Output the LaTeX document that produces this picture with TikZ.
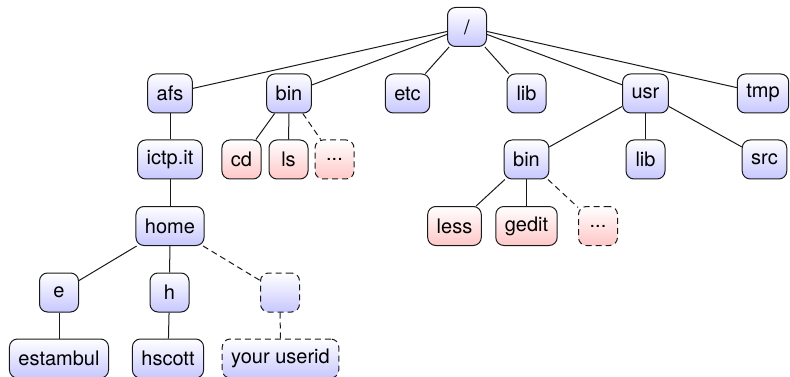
\documentclass[tikz,border=0pt]{standalone}
\usepackage{fontspec}
\setmainfont{TeX Gyre Heros}
\tikzset{
  dirbox/.style={draw=black!90, line width=1pt, rounded corners=8pt,
    minimum width=39pt, minimum height=39pt, inner xsep=9pt, inner ysep=4pt,
    top color=white, bottom color=blue!22, font=\fontsize{20}{23}\selectfont},
  filebox/.style={dirbox, bottom color=red!22},
  more/.style={dash pattern=on 6pt off 4pt},
  link/.style={draw=black!90, line width=1pt},
}
\begin{document}
\begin{tikzpicture}[x=1pt,y=-1pt]
\useasboundingbox (0,0) rectangle (790,377);
% root and first level
\node[dirbox] (root) at (467,27) {/};
\node[dirbox] (afs) at (170,93.5) {afs};
\node[dirbox] (bin) at (289,93.5) {bin};
\node[dirbox] (etc) at (407.5,93.5) {etc};
\node[dirbox] (lib) at (526.5,93.5) {lib};
\node[dirbox] (usr) at (645.5,93.5) {usr};
\node[dirbox] (tmp) at (763,93.5) {tmp};
% second level
\node[dirbox] (ictp) at (170,159.5) {ictp.it};
\node[filebox] (cd) at (241.5,159.5) {cd};
\node[filebox] (ls) at (288.5,159.5) {ls};
\node[filebox, more] (bmore) at (334.5,159.5) {...};
\node[dirbox] (ubin) at (526.5,159.5) {bin};
\node[dirbox] (ulib) at (645.5,159.5) {lib};
\node[dirbox] (usrc) at (764.5,159.5) {src};
% third level
\node[dirbox] (home) at (170,226) {home};
\node[filebox] (less) at (454.5,226) {less};
\node[filebox] (gedit) at (526.5,226) {gedit};
\node[filebox, more] (umore) at (598,226) {...};
% fourth level
\node[dirbox] (e) at (59,292.5) {e};
\node[dirbox] (h) at (169.5,292.5) {h};
\node[dirbox, more] (anyuser) at (280,292.5) {};
% fifth level
\node[dirbox] (estambul) at (59,358.5) {estambul};
\node[dirbox] (hscott) at (168,358.5) {hscott};
\node[dirbox, more] (userid) at (280.5,358.5) {your userid};
% connectors
\foreach \c in {afs,bin,etc,lib,usr,tmp} \draw[link] (root) -- (\c);
\draw[link] (afs) -- (ictp);
\draw[link] (ictp) -- (home);
\draw[link] (bin) -- (cd);
\draw[link] (bin) -- (ls);
\draw[link, more] (bin) -- (bmore);
\draw[link] (usr) -- (ubin);
\draw[link] (usr) -- (ulib);
\draw[link] (usr) -- (usrc);
\draw[link] (ubin) -- (less);
\draw[link] (ubin) -- (gedit);
\draw[link, more] (ubin) -- (umore);
\draw[link] (home) -- (e);
\draw[link] (home) -- (h);
\draw[link, more] (home) -- (anyuser);
\draw[link] (e) -- (estambul);
\draw[link] (h) -- (hscott);
\draw[link, more] (anyuser) -- (userid);
\end{tikzpicture}
\end{document}
